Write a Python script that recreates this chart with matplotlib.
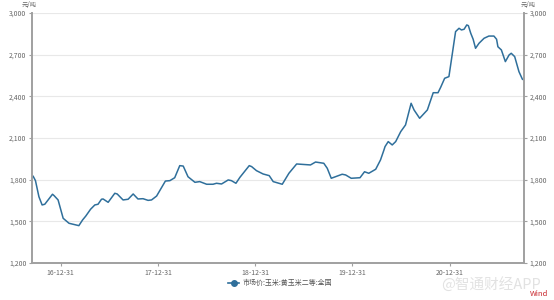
import matplotlib
matplotlib.use("Agg")
import matplotlib.pyplot as plt
import matplotlib.dates as mdates
import pandas as pd

plt.rcParams['font.family'] = ['Noto Sans CJK SC', 'DejaVu Sans']

# 市场价:玉米:黄玉米二等:全国 (元/吨), 读图估计
dates = [
    "2016-09-14", "2016-09-18", "2016-09-27", "2016-10-10", "2016-10-22", "2016-11-01",
    "2016-11-30", "2016-12-06", "2016-12-21", "2017-01-09", "2017-01-31", "2017-03-09",
    "2017-03-23", "2017-04-04", "2017-04-22", "2017-05-08", "2017-05-20", "2017-06-02",
    "2017-06-08", "2017-06-27", "2017-07-22", "2017-07-31", "2017-08-22", "2017-09-10",
    "2017-09-29", "2017-10-17", "2017-11-05", "2017-11-24", "2017-12-07", "2017-12-26",
    "2018-01-28", "2018-02-14", "2018-03-04", "2018-03-23", "2018-04-05", "2018-04-23",
    "2018-05-19", "2018-06-06", "2018-07-02", "2018-07-26", "2018-08-08", "2018-08-27",
    "2018-09-21", "2018-10-03", "2018-10-20", "2018-11-04", "2018-12-09", "2018-12-18",
    "2019-01-05", "2019-01-30", "2019-02-22", "2019-03-09", "2019-04-12", "2019-05-07",
    "2019-06-05", "2019-07-27", "2019-08-15", "2019-09-15", "2019-09-28", "2019-10-13",
    "2019-11-23", "2019-12-06", "2019-12-27", "2020-01-29", "2020-02-15", "2020-03-02",
    "2020-03-28", "2020-04-15", "2020-04-28", "2020-05-02", "2020-05-14", "2020-05-29",
    "2020-06-11", "2020-06-30", "2020-07-18", "2020-08-08", "2020-08-19", "2020-09-09",
    "2020-10-08", "2020-10-30", "2020-11-17", "2020-11-27", "2020-12-12", "2020-12-28",
    "2021-01-10", "2021-01-22", "2021-02-04", "2021-02-13", "2021-02-23", "2021-03-05",
    "2021-03-11", "2021-03-20", "2021-03-29", "2021-04-07", "2021-04-20", "2021-05-09",
    "2021-05-27", "2021-06-15", "2021-06-25", "2021-06-30", "2021-07-13", "2021-07-28",
    "2021-08-11", "2021-08-19", "2021-09-01", "2021-09-17", "2021-09-30", "2021-10-06",
]
price = [
    1817, 1826, 1793, 1677, 1618, 1623,
    1695, 1685, 1654, 1522, 1486, 1469,
    1510, 1538, 1587, 1618, 1623, 1659,
    1661, 1637, 1702, 1697, 1654, 1659,
    1697, 1661, 1663, 1651, 1654, 1682,
    1790, 1793, 1814, 1901, 1898, 1821,
    1781, 1786, 1767, 1767, 1774, 1769,
    1798, 1793, 1774, 1817, 1901, 1894,
    1865, 1841, 1829, 1786, 1767, 1846,
    1913, 1906, 1927, 1918, 1882, 1810,
    1839, 1834, 1810, 1814, 1857, 1846,
    1875, 1942, 2014, 2038, 2074, 2050,
    2074, 2146, 2194, 2350, 2302, 2242,
    2302, 2426, 2426, 2465, 2530, 2542,
    2710, 2866, 2890, 2878, 2883, 2914,
    2909, 2854, 2811, 2746, 2782, 2818,
    2834, 2834, 2811, 2757, 2734, 2650,
    2698, 2710, 2686, 2578, 2523, 2518,
]
yticks = [1200, 1500, 1800, 2100, 2400, 2700, 3000]
xticks = ["2016-12-31", "2017-12-31", "2018-12-31", "2019-12-31", "2020-12-31"]
series_name = "市场价:玉米:黄玉米二等:全国"
unit = "元/吨"

x = pd.to_datetime(dates)
gray = "#a0a0a0"
label_col = "#666666"
line_col = "#2f6f9b"

fig = plt.figure(figsize=(5.54, 3.0), dpi=100)
ax = fig.add_axes([32 / 554, 1 - 263 / 300, 492 / 554, 250 / 300])

ax.plot(x, price, color=line_col, lw=1.1)
ax.set_xlim(pd.Timestamp("2016-09-14"), pd.Timestamp("2021-10-06"))
ax.set_ylim(1200, 3000)

ax.set_yticks(yticks)
ax.set_yticklabels([f"{v:,}" for v in yticks])
ax.set_xticks(pd.to_datetime(xticks))
ax.xaxis.set_major_formatter(mdates.DateFormatter("%y-%m-%d"))
ax.yaxis.grid(True, color="#e8e8e8", lw=0.8)
ax.set_axisbelow(True)

ax.tick_params(axis="y", which="both", labelsize=5, colors=label_col, length=2.5,
               width=0.8, pad=1.5, left=True, right=True, labelleft=True, labelright=True)
ax.tick_params(axis="y", color=gray)
ax.tick_params(axis="x", labelsize=5, colors=label_col, length=2, width=0.8, pad=2)
ax.tick_params(axis="x", color=gray)

for side in ["left", "right", "bottom"]:
    ax.spines[side].set_color(gray)
    ax.spines[side].set_linewidth(1.4)
ax.spines["top"].set_visible(False)

fig.text(29 / 554, 1 - 5 / 300, unit, fontsize=4.5, color=label_col, ha="center", va="center")
fig.text(528 / 554, 1 - 5 / 300, unit, fontsize=4.5, color=label_col, ha="center", va="center")

# legend
ax.plot([], [], color=line_col, lw=1.2, marker="o", ms=4, label=series_name)
fig.legend(loc="center", bbox_to_anchor=(280 / 554, 1 - 283 / 300), frameon=False,
           fontsize=5, handlelength=1.6, handletextpad=0.4, labelcolor="#555555")

fig.text(491 / 554, 1 - 284 / 300, "@智通财经APP", fontsize=10.5, color="#e2e2e2",
         ha="center", va="center")
fig.text(548 / 554, 1 - 294 / 300, "Wind", fontsize=5.5, color="#c8282e",
         ha="right", va="center")

fig.savefig("out.png", dpi=100)
